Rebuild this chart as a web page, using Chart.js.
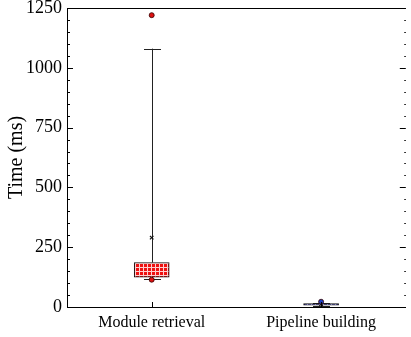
<!DOCTYPE html>
<html>
<head>
<meta charset="utf-8">
<script src="https://cdn.jsdelivr.net/npm/chart.js@4"></script>
<style>
  html, body { margin: 0; padding: 0; background: #fff; }
  #wrap { width: 411px; height: 337px; }
</style>
</head>
<body>
<div id="wrap"><canvas id="grafica"></canvas></div>
<script>
// Datos del box plot (ms)
const categorias = ['Module retrieval', 'Pipeline building'];
const cuartil1 = [125, 8];
const cuartil3 = [186, 14];
const bigoteMin = [118, 6];
const bigoteMax = [1080, 18];
const medias = [290, 12];
const atipicos = [[1220, 114], [22]];
const ticksY = [0, 250, 500, 750, 1000, 1250];

// Patron cuadriculado para las cajas
function patron(fondo, linea) {
  const c = document.createElement('canvas');
  c.width = 4; c.height = 4;
  const g = c.getContext('2d');
  g.fillStyle = fondo;
  g.fillRect(0, 0, 4, 4);
  g.fillStyle = linea;
  g.fillRect(3, 0, 1, 4);
  g.fillRect(0, 3, 4, 1);
  return g.createPattern(c, 'repeat');
}
const ctx = document.getElementById('grafica').getContext('2d');
const rellenos = [patron('#ee1111', '#ffd0d0'), patron('#1a1a55', '#7777aa')];

// Bigotes, marco y ticks hacia dentro
const bigotes = {
  id: 'bigotes',
  beforeDatasetsDraw(chart) {
    const { ctx, scales: { x, y } } = chart;
    ctx.save();
    ctx.strokeStyle = '#222';
    ctx.lineWidth = 1;
    categorias.forEach((c, i) => {
      const px = Math.round(x.getPixelForValue(i)) + 0.5;
      ctx.beginPath();
      ctx.moveTo(px, y.getPixelForValue(cuartil3[i]));
      ctx.lineTo(px, y.getPixelForValue(bigoteMax[i]));
      ctx.moveTo(px, y.getPixelForValue(cuartil1[i]));
      ctx.lineTo(px, y.getPixelForValue(bigoteMin[i]));
      [bigoteMin[i], bigoteMax[i]].forEach(v => {
        const py = Math.round(y.getPixelForValue(v)) + 0.5;
        ctx.moveTo(px - 8.5, py);
        ctx.lineTo(px + 8.5, py);
      });
      ctx.stroke();
    });
    ctx.restore();
  },
  afterDatasetsDraw(chart) {
    const { ctx, chartArea: a, scales: { x, y } } = chart;
    ctx.save();
    ctx.strokeStyle = '#000';
    ctx.lineWidth = 1;
    ctx.beginPath();
    ctx.moveTo(a.left, a.top + 0.5);
    ctx.lineTo(a.right, a.top + 0.5);
    for (let v = 0; v <= 1250; v += 50) {
      const py = Math.round(y.getPixelForValue(v)) + 0.5;
      const mayor = v % 250 === 0;
      ctx.moveTo(a.left, py);
      ctx.lineTo(a.left + (mayor ? 6 : 3), py);
      ctx.moveTo(a.right, py);
      ctx.lineTo(a.right - (mayor ? 6 : 1.5), py);
    }
    categorias.forEach((c, i) => {
      const px = Math.round(x.getPixelForValue(i)) + 0.5;
      ctx.moveTo(px, a.bottom);
      ctx.lineTo(px, a.bottom - 5);
    });
    ctx.stroke();
    ctx.restore();
  }
};

new Chart(ctx, {
  data: {
    labels: categorias,
    datasets: [
      {
        type: 'bar',
        data: categorias.map((c, i) => [cuartil1[i], cuartil3[i]]),
        backgroundColor: rellenos,
        borderColor: '#111',
        borderWidth: 1,
        borderSkipped: false,
        barThickness: 35,
        order: 2
      },
      {
        type: 'line',
        showLine: false,
        data: categorias.map((c, i) => ({ x: c, y: medias[i] })),
        pointStyle: 'crossRot',
        pointRadius: 2.5,
        borderColor: '#111',
        borderWidth: 1.2,
        order: 1
      },
      {
        type: 'line',
        showLine: false,
        data: atipicos.flatMap((lista, i) => lista.map(v => ({ x: categorias[i], y: v }))),
        pointRadius: 2.5,
        pointBackgroundColor: atipicos.flatMap((lista, i) => lista.map(() => i === 0 ? '#dd1111' : '#1f3fbf')),
        pointBorderColor: '#300',
        pointBorderWidth: 0.8,
        order: 0
      }
    ]
  },
  options: {
    responsive: true,
    maintainAspectRatio: false,
    animation: false,
    layout: { padding: { top: 8, right: 1, left: 0, bottom: 0 } },
    plugins: { legend: { display: false }, tooltip: { enabled: false } },
    scales: {
      x: {
        type: 'category',
        offset: true,
        grid: { display: false, drawTicks: false, tickLength: 0 },
        border: { display: true, color: '#000', width: 1 },
        ticks: { color: '#000', padding: 6, font: { family: 'Liberation Serif', size: 16 } },
        afterFit(s) { s.height = 30; s.paddingLeft = 0; s.paddingRight = 0; }
      },
      y: {
        min: 0,
        max: 1250,
        afterBuildTicks(s) { s.ticks = ticksY.map(v => ({ value: v })); },
        grid: { display: false, drawTicks: false, tickLength: 0 },
        border: { display: true, color: '#000', width: 1 },
        ticks: { color: '#000', padding: 5, font: { family: 'Liberation Serif', size: 18 }, callback: v => String(v) },
        title: { display: true, text: 'Time (ms)', color: '#000', padding: { top: 5, bottom: 0 }, font: { family: 'Liberation Serif', size: 20 } },
        afterFit(s) { s.width = 67; s.paddingTop = 0; s.paddingBottom = 0; }
      }
    }
  },
  plugins: [bigotes]
});
</script>
</body>
</html>
